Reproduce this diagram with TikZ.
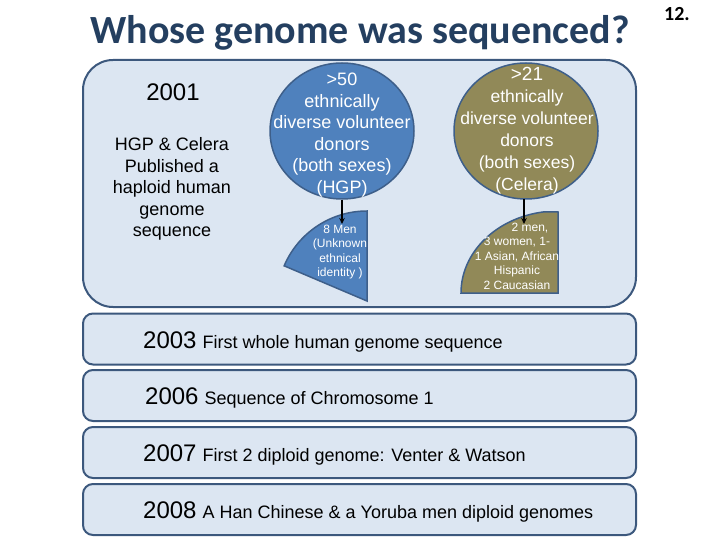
\documentclass[tikz,border=0pt]{standalone}
\usepackage{fontspec}
\setmainfont{Liberation Sans}
\newfontfamily\carlito{Carlito}
\usetikzlibrary{shapes.geometric,arrows.meta}
\definecolor{boxfill}{RGB}{220,230,242}
\definecolor{boxline}{RGB}{60,88,125}
\definecolor{hgpblue}{RGB}{79,129,189}
\definecolor{olivec}{RGB}{145,137,88}
\definecolor{circline}{RGB}{62,95,138}
\definecolor{titleblue}{RGB}{36,63,96}
\begin{document}
\begin{tikzpicture}[x=1pt,y=-1pt,
  panel/.style={draw=boxline, line width=2pt, fill=boxfill, rounded corners=30pt, inner sep=0pt, minimum width=553pt, minimum height=247pt},
  yearbox/.style={draw=boxline, line width=2pt, fill=boxfill, rounded corners=10pt, inner sep=0pt, minimum width=553pt, minimum height=51pt},
  donor/.style={ellipse, draw=circline, line width=1.5pt, inner sep=0pt, minimum width=144pt, minimum height=136pt},
  sector/.style={draw=circline, line width=1.5pt},
  wtext/.style={text=white, align=center, inner sep=0pt},
  smalltext/.style={text=white, align=center, inner sep=0pt, font=\fontsize{12}{14.5}\selectfont},
  darrow/.style={-{Stealth[length=6pt,width=5.5pt]}, line width=1.3pt, black},
  yeartext/.style={anchor=base west, inner sep=0pt}
]
\useasboundingbox (0,0) rectangle (720,540);

% title and page number
\node[anchor=base, text=titleblue, inner sep=0pt, font=\carlito\bfseries\fontsize{40}{44}\selectfont] (title) at (360,44) {Whose genome was sequenced?};
\node[anchor=base west, inner sep=0pt, font=\carlito\bfseries\fontsize{20}{24}\selectfont] (pagenum) at (664,21) {12.};

% 2001 panel
\node[panel] (panel) at (359.5,183.5) {};
\node[anchor=base, inner sep=0pt, font=\fontsize{24}{28}\selectfont] (y2001) at (173,101) {2001};
\node[align=center, inner sep=0pt, font=\fontsize{18}{21.5}\selectfont] (hgpcel) at (172,189) {HGP \& Celera\\Published a\\haploid human\\genome\\sequence};

% donor circles
\node[donor, fill=hgpblue] (hgp) at (342,131) {};
\node[donor, fill=olivec] (celera) at (526,131) {};
\node[wtext, font=\fontsize{18}{21.5}\selectfont] (hgptext) at (342,135) {>50\\ethnically\\diverse volunteer\\donors\\(both sexes)\\(HGP)};
\node[wtext, font=\fontsize{17.5}{22}\selectfont] (celtext) at (527,131) {{\fontsize{19}{22}\selectfont >21}\\ethnically\\diverse volunteer\\donors\\(both sexes)\\(Celera)};

% sectors
\path[sector, fill=hgpblue] (367,301) -- (367,211) arc[start angle=-90, end angle=-157, radius=90] -- cycle;
\path[sector, fill=olivec] (461,293) arc[start angle=-180, end angle=-98, x radius=97, y radius=82] -- (558,212) -- (558,293) -- cycle;

% arrows
\coordinate (hgptip) at (342,224);
\coordinate (celtop) at (524,199);
\coordinate (celtip) at (524,224);
\draw[darrow] (hgp.south) -- (hgptip);
\draw[darrow] (celtop) -- (celtip);

% sector texts
\node[smalltext] (hgpsub) at (340,252) {8 Men\\(Unknown\\ethnical\\identity )};
\node[smalltext] (celsub) at (517,256) {\hspace*{26pt}2 men,\\3 women, 1-\\1 Asian, African\\Hispanic\\2 Caucasian};

% timeline boxes
\node[yearbox] (b2003) at (359.5,339) {};
\node[yearbox] (b2006) at (359.5,395.5) {};
\node[yearbox] (b2007) at (359.5,452.5) {};
\node[yearbox] (b2008) at (359.5,509.5) {};
\node[yeartext] (t2003) at (143,348) {\fontsize{24}{28}\selectfont 2003\hspace{6pt}\fontsize{18}{22}\selectfont First whole human genome sequence};
\node[yeartext] (t2006) at (145,404.5) {\fontsize{24}{28}\selectfont 2006\hspace{6pt}\fontsize{18}{22}\selectfont Sequence of Chromosome 1};
\node[yeartext] (t2007) at (143,461.5) {\fontsize{24}{28}\selectfont 2007\hspace{6pt}\fontsize{18}{22}\selectfont First 2 diploid genome: Venter \& Watson};
\node[yeartext] (t2008) at (143,518.5) {\fontsize{24}{28}\selectfont 2008\hspace{6pt}\fontsize{18}{22}\selectfont A Han Chinese \& a Yoruba men diploid genomes};
\end{tikzpicture}
\end{document}
